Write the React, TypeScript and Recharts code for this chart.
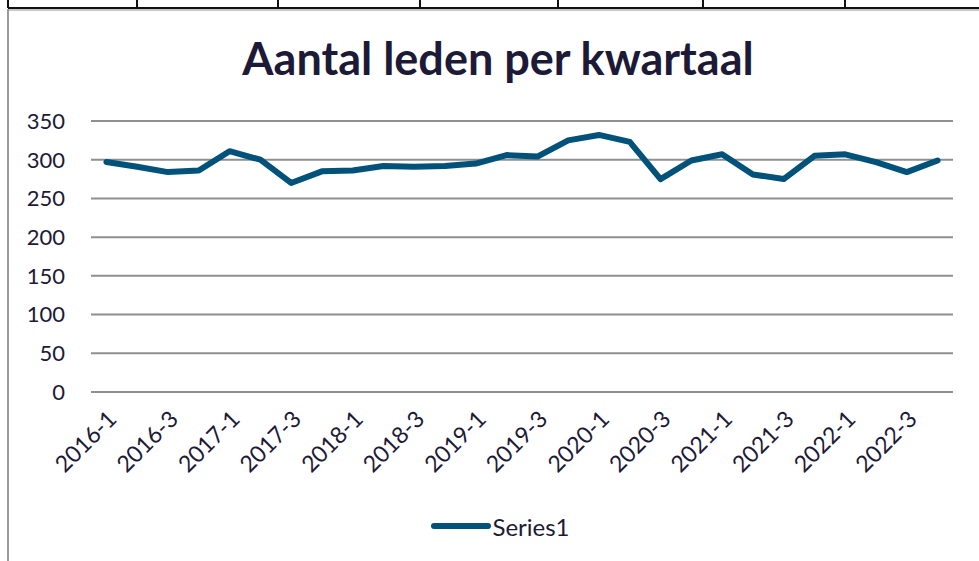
import React from 'react';
import { LineChart, Line, XAxis, YAxis, CartesianGrid, Legend } from 'recharts';

const quarters: string[] = [
  '2016-1', '2016-2', '2016-3', '2016-4',
  '2017-1', '2017-2', '2017-3', '2017-4',
  '2018-1', '2018-2', '2018-3', '2018-4',
  '2019-1', '2019-2', '2019-3', '2019-4',
  '2020-1', '2020-2', '2020-3', '2020-4',
  '2021-1', '2021-2', '2021-3', '2021-4',
  '2022-1', '2022-2', '2022-3', '2022-4',
];

const series1: number[] = [
  297, 291, 284, 286,
  311, 300, 270, 285,
  286, 292, 291, 292,
  295, 306, 304, 325,
  332, 323, 275, 299,
  307, 281, 275, 305,
  307, 297, 284, 299,
];

const yTicks: number[] = [0, 50, 100, 150, 200, 250, 300, 350];

const data = quarters.map((q, i) => ({ name: q, Series1: series1[i] }));

const FONT = 'Lato, "Open Sans", sans-serif';
const TEXT = '#1c1a36';
const LINE = '#00527a';

const XTick = (props: any) => {
  const { x, y, payload } = props;
  return (
    <g transform={`translate(${x + 6},${y + 15})`}>
      <text
        x={0}
        y={0}
        textAnchor="end"
        transform="rotate(-45)"
        fill={TEXT}
        fontFamily={FONT}
        fontSize={23}
        dy={8}
      >
        {payload.value}
      </text>
    </g>
  );
};

const LegendContent = (props: any) => {
  const { payload } = props;
  return (
    <div style={{ display: 'flex', justifyContent: 'center', alignItems: 'center', height: 30, paddingLeft: 48 }}>
      {(payload || []).map((p: any) => (
        <div key={p.value} style={{ display: 'flex', alignItems: 'center' }}>
          <svg width={60} height={10} style={{ marginRight: 1 }}>
            <line x1={3} y1={5} x2={57} y2={5} stroke={p.color} strokeWidth={6} strokeLinecap="round" />
          </svg>
          <span style={{ fontFamily: FONT, fontSize: 24, color: TEXT }}>{p.value}</span>
        </div>
      ))}
    </div>
  );
};

export default function App() {
  return (
    <div style={{ position: 'fixed', left: 0, top: 0, width: 979, height: 561, background: '#fff', overflow: 'hidden' }}>
      {/* sheet borders */}
      <div style={{ position: 'absolute', left: 8, top: 7, width: 971, height: 2, background: '#111' }} />
      {[8, 137, 278, 420, 558, 703, 845].map((x) => (
        <div key={x} style={{ position: 'absolute', left: x - 1, top: 0, width: 2, height: 8, background: '#111' }} />
      ))}
      <div style={{ position: 'absolute', left: 8, top: 9, width: 971, height: 2, background: '#c8c8c8' }} />
      <div style={{ position: 'absolute', left: 7, top: 9, width: 2, height: 552, background: '#9a9a9a' }} />

      <div
        style={{
          position: 'absolute',
          left: 0,
          top: 30,
          width: 996,
          textAlign: 'center',
          fontFamily: FONT,
          fontWeight: 700,
          fontSize: 45,
          color: TEXT,
          lineHeight: '56px',
        }}
      >
        Aantal leden per kwartaal
      </div>

      <div style={{ position: 'absolute', left: 0, top: 0 }}>
        <LineChart
          width={979}
          height={561}
          data={data}
          margin={{ top: 121, right: 26, left: 0, bottom: 20 }}
        >
          <CartesianGrid vertical={false} stroke="#8f8f8f" strokeWidth={2} />
          <XAxis
            dataKey="name"
            interval={1}
            tick={<XTick />}
            tickLine={false}
            axisLine={false}
            height={119}
            padding={{ left: 15.4, right: 15.4 }}
          />
          <YAxis
            domain={[0, 350]}
            ticks={yTicks}
            axisLine={false}
            tickLine={false}
            tickSize={0}
            tickMargin={26}
            width={91}
            tick={{ fill: TEXT, fontFamily: FONT, fontSize: 22 }}
          />
          <Legend verticalAlign="bottom" content={<LegendContent />} />
          <Line
            type="linear"
            dataKey="Series1"
            stroke={LINE}
            strokeWidth={6}
            strokeLinejoin="round"
            strokeLinecap="round"
            dot={false}
            isAnimationActive={false}
          />
        </LineChart>
      </div>
    </div>
  );
}
